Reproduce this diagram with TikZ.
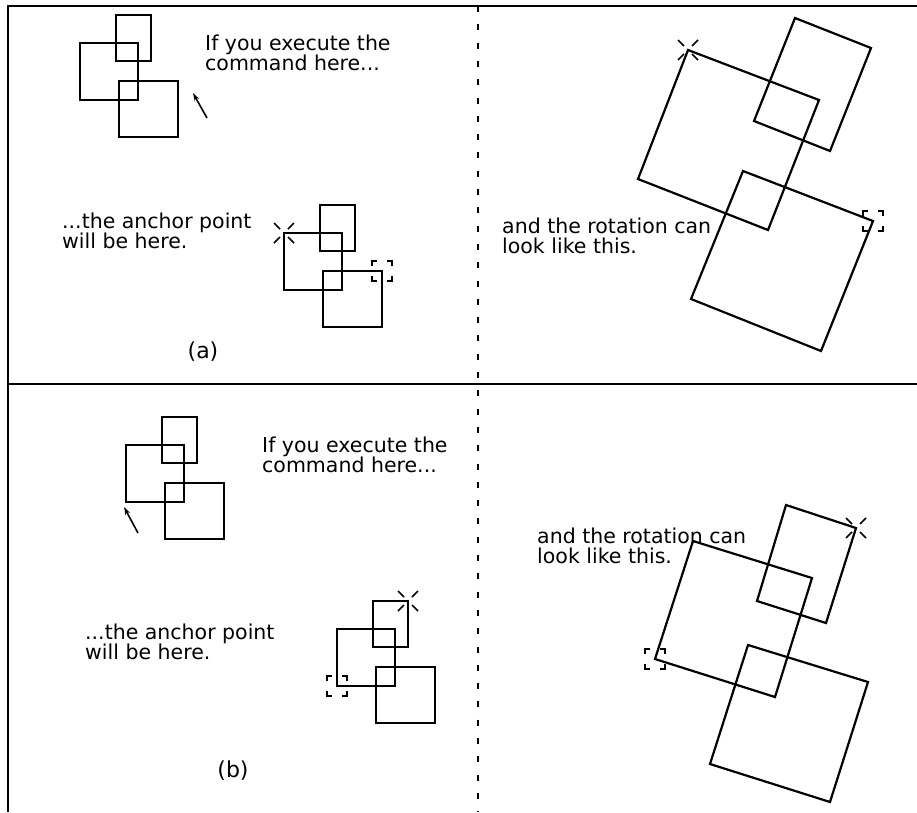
\documentclass[tikz,border=0pt]{standalone}
\usepackage{fontspec}
\setmainfont{DejaVu Sans}
\usetikzlibrary{arrows.meta}
\tikzset{
  frameline/.style={line width=2.6pt},
  boxline/.style={line width=2.2pt, line join=miter},
  lbl/.style={anchor=north west, inner sep=0pt, align=left, font=\fontsize{20.5}{20}\selectfont},
  tag/.style={anchor=center, inner sep=0pt, font=\fontsize{22}{22}\selectfont},
  ptr/.style={line width=1.6pt, -{Stealth[length=8pt,width=5pt]}},
  divider/.style={line width=2pt, dash pattern=on 6pt off 12.3pt},
  markline/.style={line width=1.5pt},
  trio/.pic={
    \draw[boxline] (36,-28) rectangle (71,18);
    \draw[boxline] (0,0) rectangle (58,57);
    \draw[boxline] (39,38) rectangle (98,94);
  },
  starmark/.pic={
    \draw[markline] (-4,-4) -- (-10,-10) (4,-4) -- (10,-10) (-4,4) -- (-10,10) (4,4) -- (10,10);
  },
  bracketmark/.pic={
    \draw[markline] (-10,-5) -- (-10,-10) -- (-5,-10) (5,-10) -- (10,-10) -- (10,-5)
                    (-10,5) -- (-10,10) -- (-5,10) (5,10) -- (10,10) -- (10,5);
  },
}
\begin{document}
\begin{tikzpicture}[x=1pt,y=-1pt]
\useasboundingbox (0,0) rectangle (917,812);
% frame
\coordinate (tl) at (8,6); \coordinate (tr) at (917,6); \coordinate (bl) at (8,812);
\coordinate (ml) at (8,384); \coordinate (mr) at (917,384);
\coordinate (dt) at (478,6); \coordinate (db) at (478,812);
\draw[frameline] (tr) -- (tl) -- (bl);
\draw[frameline] (ml) -- (mr);
\draw[divider] (dt) -- (db);

% ---------- panel (a) ----------
\pic at (80,43) {trio};
\coordinate (a1s) at (207,118); \coordinate (a1e) at (193,93);
\draw[ptr] (a1s) -- (a1e);
\node[lbl] (a1t) at (205,34.4) {If you execute the\\command here...};
\node[lbl] (a2t) at (62,212.4) {...the anchor point\\will be here.};
\pic at (284,233) {trio};
\pic at (284,233) {starmark};
\pic at (382,271) {bracketmark};
\node[tag] (alab) at (203,352) {(a)};
% rotated (a)
\draw[boxline] (795,18) -- (871,48) -- (830,151) -- (754,121) -- cycle;
\draw[boxline] (688,50) -- (819,100) -- (768,230) -- (638,179) -- cycle;
\draw[boxline] (743,171) -- (873,221) -- (821,351) -- (691,299) -- cycle;
\pic at (688,50) {starmark};
\pic at (873,221) {bracketmark};
\node[lbl] (a3t) at (502,217.4) {and the rotation can\\look like this.};

% ---------- panel (b) ----------
\pic at (126,445) {trio};
\coordinate (b1s) at (138,533); \coordinate (b1e) at (124,507);
\draw[ptr] (b1s) -- (b1e);
\node[lbl] (b1t) at (262,436.4) {If you execute the\\command here...};
\node[lbl] (b2t) at (85,623.4) {...the anchor point\\will be here.};
\pic at (337,629) {trio};
\pic at (408,601) {starmark};
\pic at (337,686) {bracketmark};
\node[tag] (blab) at (233,771) {(b)};
% rotated (b)
\draw[boxline] (786,505) -- (856,528) -- (826,623) -- (757,601) -- cycle;
\draw[boxline] (693,541) -- (812,578) -- (775,697) -- (655,659) -- cycle;
\draw[boxline] (748,645) -- (868,682) -- (830,802) -- (710,764) -- cycle;
\pic at (856,528) {starmark};
\pic at (655,659) {bracketmark};
\node[lbl] (b3t) at (537,527.4) {and the rotation can\\look like this.};
\end{tikzpicture}
\end{document}
